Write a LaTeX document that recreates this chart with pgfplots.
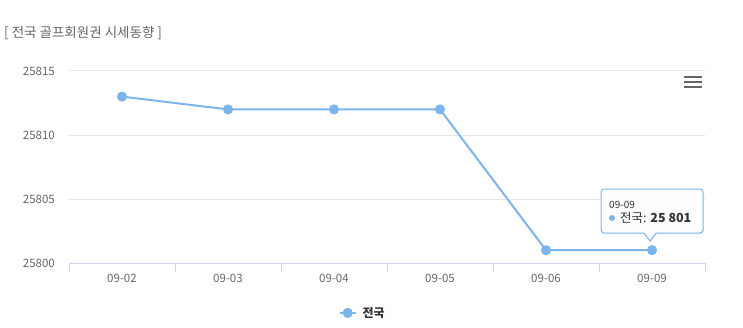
\documentclass[border=0pt]{standalone}
\usepackage{pgfplots}
\pgfplotsset{compat=1.18}
\usepackage{fontspec}
\setmainfont{Noto Sans CJK KR}
\usetikzlibrary{shadows}
\definecolor{ser}{HTML}{7CB5EC}
\definecolor{lab}{HTML}{666666}
\definecolor{txt}{HTML}{333333}
\definecolor{grd}{HTML}{E6E6E6}
\definecolor{axl}{HTML}{CCD6EB}
\begin{document}
\begin{tikzpicture}[x=1pt,y=1pt]
\useasboundingbox (0,0) rectangle (743,327);
\node[anchor=west, text=lab, font=\fontsize{13.5}{16}\selectfont, inner sep=0pt] at (4,294) {[ 전국 골프회원권 시세동향 ]};
\begin{axis}[at={(69pt,64pt)}, anchor=south west, scale only axis, width=636pt, height=192pt,
  xmin=-0.5, xmax=5.5, ymin=25800, ymax=25815,
  xtick={0,...,5}, xticklabels={09-02,09-03,09-04,09-05,09-06,09-09},
  minor xtick={-0.5,0.5,1.5,2.5,3.5,4.5,5.5},
  ytick={25800,25805,25810,25815},
  scaled y ticks=false,
  yticklabel={\pgfmathprintnumber[fixed, precision=0, 1000 sep={}]{\tick}},
  axis x line*=bottom, axis y line*=left,
  separate axis lines,
  x axis line style={axl, line width=1pt, -},
  y axis line style={draw=none},
  ymajorgrids, major grid style={grd, line width=1pt},
  major tick length=0pt, minor tick length=9pt, tick align=outside,
  minor tick style={axl, line width=1pt},
  /pgf/number format/assume math mode=true,
  yticklabel style={font=\fontsize{11.5}{13}\selectfont, text=lab, inner sep=0pt, anchor=east, xshift=-14pt},
  xticklabel style={font=\fontsize{11.5}{13}\selectfont, text=lab, inner sep=0pt, anchor=north, yshift=-11pt},
  clip=false,
  legend style={at={(0.4618,-0.26)}, anchor=center, draw=none, fill=none, inner sep=0pt,
    font=\fontsize{12}{14}\selectfont\bfseries, text=txt},
  legend image code/.code={\draw[ser, line width=2pt] (0pt,0pt) -- (16pt,0pt); \fill[ser] (8pt,0pt) circle (4pt); \path (20pt,0pt);},
]
\addplot[ser, line width=2pt, mark=*, mark size=4pt, mark options={fill=ser, draw=none}]
  coordinates {(0,25813) (1,25812) (2,25812) (3,25812) (4,25801) (5,25801)};
\addlegendentry{전국}
\end{axis}
% hamburger menu
\foreach \yy in {250,245,240} \draw[lab, line width=2pt] (684,\yy) -- (702,\yy);
% tooltip
\filldraw[fill=white, fill opacity=0.92, draw=ser, line width=1pt, drop shadow={opacity=0.12, shadow xshift=1pt, shadow yshift=-1pt}]
  (650,86) [sharp corners]-- (656,94) [rounded corners=3pt]-- (703,94) -- (703,138) -- (601,138) -- (601,94) [sharp corners]-- (644,94) -- cycle;
\node[anchor=west, inner sep=0pt, text=txt, font=\fontsize{10}{12}\selectfont] at (609,122) {09-09};
\fill[ser] (612,109) circle (3);
\node[anchor=west, inner sep=0pt, text=txt, font=\fontsize{12.5}{14}\selectfont] at (620,109) {전국: \textbf{25 801}};
\end{tikzpicture}
\end{document}
